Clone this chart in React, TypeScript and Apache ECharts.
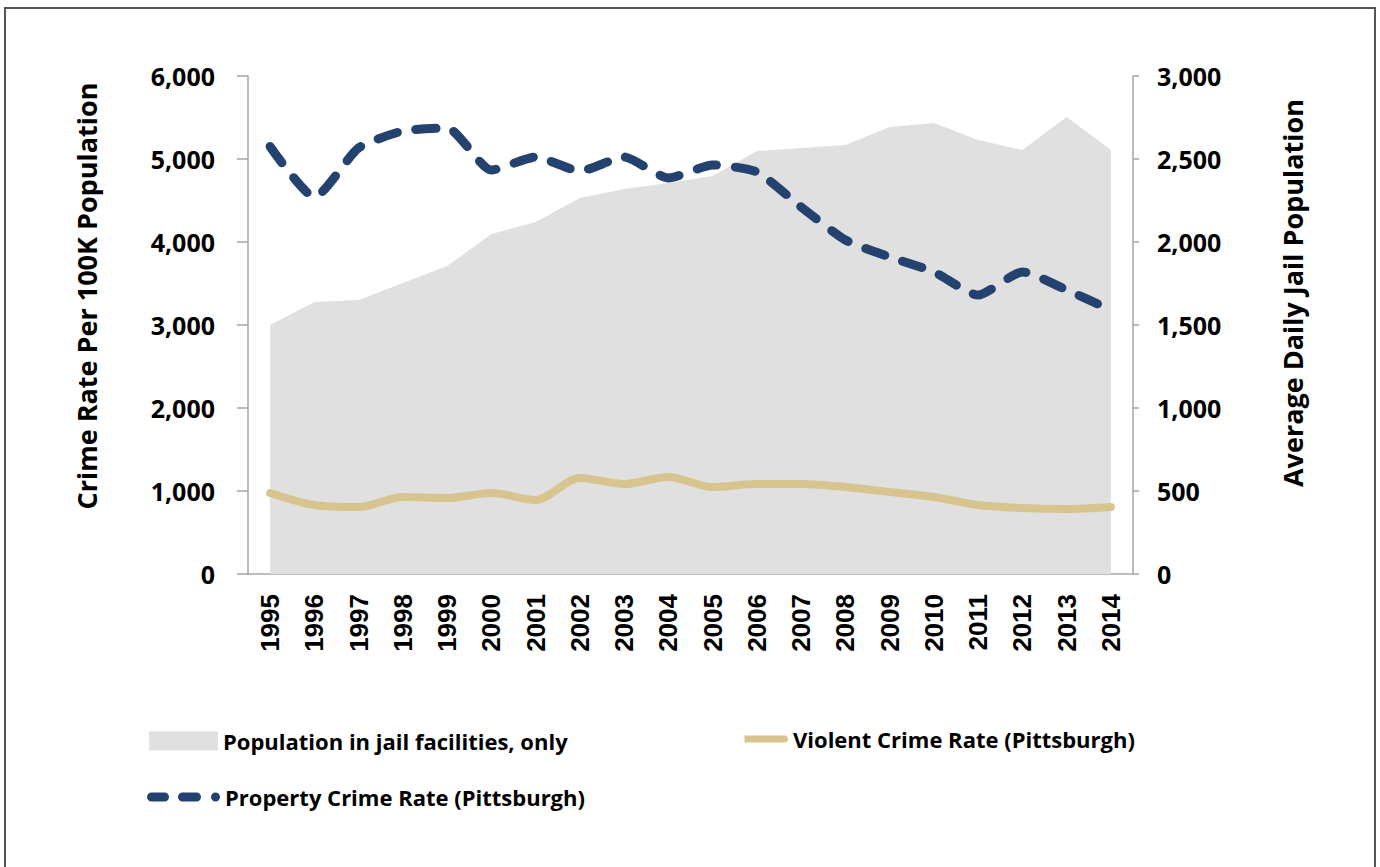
import React, { useEffect, useRef } from "react";
import * as echarts from "echarts";

const years = ["1995","1996","1997","1998","1999","2000","2001","2002","2003","2004","2005","2006","2007","2008","2009","2010","2011","2012","2013","2014"];
const jailPopulation = [1500,1639,1651,1753,1855,2048,2120,2265,2319,2355,2398,2548,2566,2584,2693,2717,2614,2554,2753,2554];
const violentCrime = [976,831,807,928,916,976,892,1157,1084,1169,1048,1084,1084,1048,988,928,831,795,783,807];
const propertyCrime = [5150,4542,5133,5337,5373,4867,5024,4855,5024,4771,4928,4843,4422,4024,3819,3639,3361,3639,3422,3181];
const leftTicks = { min: 0, max: 6000, interval: 1000 };
const rightTicks = { min: 0, max: 3000, interval: 500 };

const NAME_POP = "Population in jail facilities, only";
const NAME_VIOLENT = "Violent Crime Rate (Pittsburgh)";
const NAME_PROPERTY = "Property Crime Rate (Pittsburgh)";

const GRAY = "#e0e0e0";
const TAN = "#d8c48f";
const BLUE = "#24426f";
const AXIS = "#a6a6a6";
const FONT = "'Open Sans', 'Noto Sans', sans-serif";

const dashIcon =
  "path://M4.5,0 H17.5 A4.5,4.5 0 0 1 17.5,9 H4.5 A4.5,4.5 0 0 1 4.5,0 Z " +
  "M35.5,0 H49.5 A4.5,4.5 0 0 1 49.5,9 H35.5 A4.5,4.5 0 0 1 35.5,0 Z " +
  "M64,4.5 A4.5,4.5 0 1 1 73,4.5 A4.5,4.5 0 1 1 64,4.5 Z";

const fmt = (v: number) => v.toLocaleString("en-US");

export default function App() {
  const ref = useRef<HTMLDivElement>(null);
  useEffect(() => {
    if (!ref.current) return;
    const chart = echarts.init(ref.current, undefined, { renderer: "svg" });
    const legendText = { fontFamily: FONT, fontWeight: "bold" as const, fontSize: 22, color: "#000" };
    chart.setOption({
      animation: false,
      backgroundColor: "#fff",
      grid: { left: 248, right: 247, top: 76, bottom: 293, containLabel: false },
      xAxis: {
        type: "category",
        data: years,
        boundaryGap: true,
        axisLine: { show: true, lineStyle: { color: AXIS, width: 1.5 } },
        axisTick: { show: false },
        axisLabel: {
          rotate: 90,
          margin: 20,
          interval: 0,
          fontFamily: "'Liberation Sans', Arial, sans-serif",
          fontWeight: "bold",
          fontSize: 26,
          color: "#000",
        },
      },
      yAxis: [
        {
          type: "value",
          ...leftTicks,
          position: "left",
          axisLine: { show: true, lineStyle: { color: AXIS, width: 1.5 } },
          axisTick: { show: true, length: 11, lineStyle: { color: AXIS, width: 1.5 } },
          splitLine: { show: false },
          axisLabel: { margin: 33, formatter: fmt, fontFamily: FONT, fontWeight: "bold", fontSize: 25, color: "#000" },
        },
        {
          type: "value",
          ...rightTicks,
          position: "right",
          axisLine: { show: true, lineStyle: { color: AXIS, width: 1.5 } },
          axisTick: { show: true, length: 6, lineStyle: { color: AXIS, width: 1.5 } },
          splitLine: { show: false },
          axisLabel: { margin: 24, formatter: fmt, fontFamily: FONT, fontWeight: "bold", fontSize: 25, color: "#000" },
        },
      ],
      legend: [
        {
          left: 149, top: 730, padding: 0, itemWidth: 69, itemHeight: 19, itemGap: 0,
          textStyle: legendText, selectedMode: false,
          data: [{ name: NAME_POP, icon: "rect", itemStyle: { color: GRAY, borderWidth: 0 } }],
        },
        {
          left: 741, top: 725, padding: 0, itemWidth: 47, itemHeight: 28, itemGap: 0,
          textStyle: legendText, selectedMode: false,
          data: [{ name: NAME_VIOLENT, icon: "path://M3.5,10.5 H43.5 A3.5,3.5 0 0 1 43.5,17.5 H3.5 Z M0,0 H0.01 M47,28 H46.99", itemStyle: { color: TAN, borderWidth: 0 } }],
        },
        {
          left: 147, top: 786, padding: 0, itemWidth: 73, itemHeight: 9, itemGap: 0,
          textStyle: legendText, selectedMode: false,
          data: [{ name: NAME_PROPERTY, icon: dashIcon, itemStyle: { color: BLUE, borderWidth: 0 } }],
        },
      ],
      graphic: [
        {
          type: "rect",
          shape: { x: 5, y: 8, width: 1370, height: 880 },
          style: { fill: "none", stroke: "#555", lineWidth: 2 },
          silent: true,
        },
        {
          type: "text",
          x: 86, y: 296, rotation: Math.PI / 2,
          style: { text: "Crime Rate Per 100K Population", align: "center", verticalAlign: "middle", fill: "#000", font: `bold 27px ${FONT}` },
        },
        {
          type: "text",
          x: 1292, y: 293, rotation: Math.PI / 2,
          style: { text: "Average Daily Jail Population", align: "center", verticalAlign: "middle", fill: "#000", font: `bold 27px ${FONT}` },
        },
      ],
      series: [
        {
          name: NAME_POP,
          type: "line",
          yAxisIndex: 1,
          data: jailPopulation,
          symbol: "none",
          color: GRAY,
          lineStyle: { width: 0, color: GRAY },
          areaStyle: { color: GRAY, opacity: 1 },
          z: 1,
        },
        {
          name: NAME_VIOLENT,
          type: "line",
          yAxisIndex: 0,
          data: violentCrime,
          symbol: "none",
          smooth: 0.3,
          color: TAN,
          lineStyle: { width: 8, color: TAN, cap: "round", join: "round" },
          z: 3,
        },
        {
          name: NAME_PROPERTY,
          type: "line",
          yAxisIndex: 0,
          data: propertyCrime,
          symbol: "none",
          smooth: 0.2,
          color: BLUE,
          lineStyle: { width: 9, color: BLUE, type: [20, 19], cap: "round", join: "round" },
          z: 4,
        },
      ],
    });
    return () => chart.dispose();
  }, []);
  return <div ref={ref} style={{ position: "fixed", left: 0, top: 0, width: 1380, height: 867 }} />;
}
